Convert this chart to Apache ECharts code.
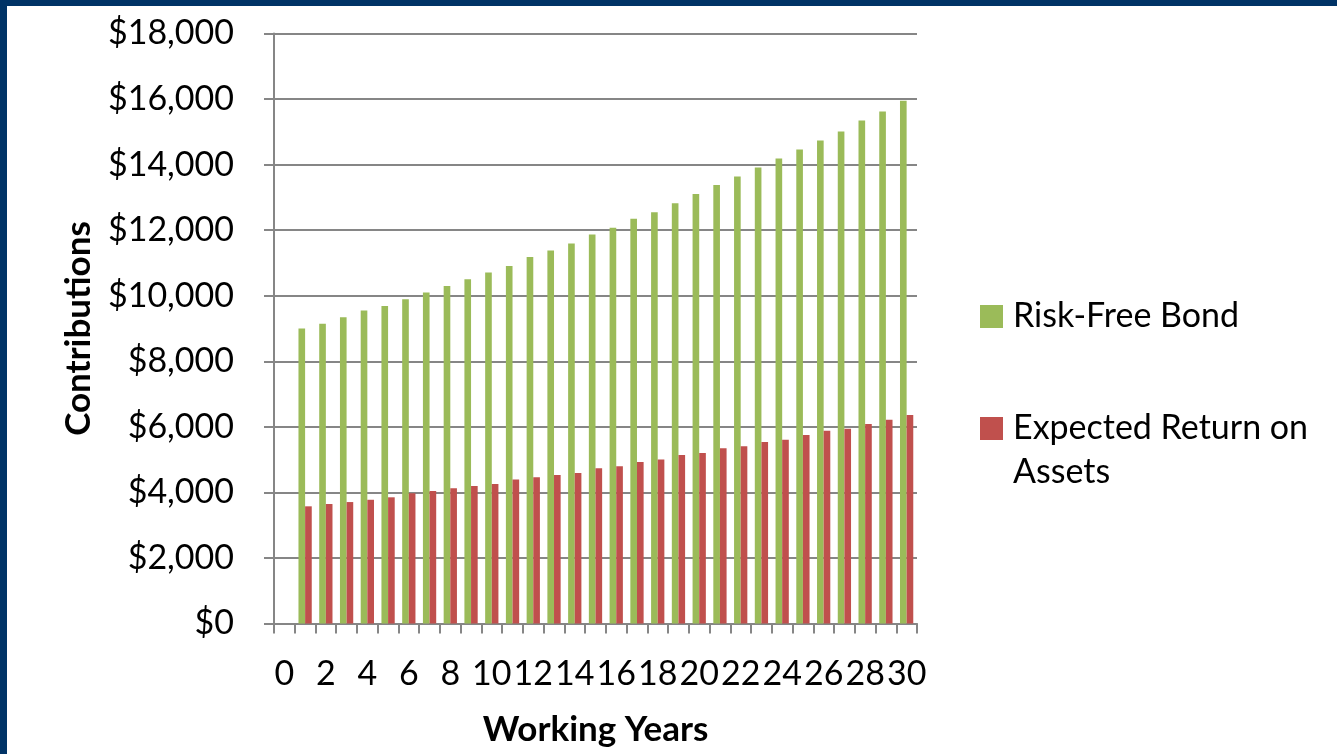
<!DOCTYPE html>
<html>
<head>
<meta charset="utf-8">
<script src="https://cdn.jsdelivr.net/npm/echarts@6/dist/echarts.min.js"></script>
<style>
  html, body { margin: 0; padding: 0; width: 1337px; height: 754px; background: #003366; overflow: hidden; }
  #chart { position: absolute; left: 7px; top: 6px; width: 1330px; height: 748px; background: #ffffff; }
</style>
</head>
<body>
<div id="chart"></div>
<script>
const years = ['0','1','2','3','4','5','6','7','8','9','10','11','12','13','14','15','16','17','18','19','20','21','22','23','24','25','26','27','28','29','30'];
const riskFreeBond = [null, 9000, 9145, 9340, 9550, 9685, 9890, 10100, 10295, 10500, 10710, 10910, 11185, 11380, 11595, 11870, 12070, 12345, 12550, 12825, 13100, 13375, 13640, 13910, 14185, 14460, 14735, 15010, 15345, 15620, 15950];
const expectedReturn = [null, 3575, 3645, 3705, 3775, 3850, 3970, 4040, 4125, 4195, 4255, 4395, 4460, 4530, 4590, 4735, 4795, 4925, 5000, 5140, 5200, 5345, 5405, 5535, 5605, 5750, 5880, 5940, 6085, 6215, 6360];
const seriesNames = ['Risk-Free Bond', 'Expected Return on Assets'];
const yTicks = { min: 0, max: 18000, interval: 2000 };

const FONT = 'Lato';
const FS = 34;
const gray = '#868686';
function money(v) { return '$' + String(v).replace(/\B(?=(\d{3})+(?!\d))/g, ','); }

const chart = echarts.init(document.getElementById('chart'), null, { renderer: 'canvas' });
chart.setOption({
  animation: false,
  textStyle: { fontFamily: FONT },
  grid: { left: 267, right: 420, top: 27.5, bottom: 130.5, containLabel: false },
  legend: [
    {
      data: [seriesNames[0]],
      orient: 'vertical', left: 968, top: 285.5,
      itemWidth: 23, itemHeight: 23, icon: 'rect',
      textStyle: { fontFamily: FONT, fontSize: FS, lineHeight: 40, color: '#000', padding: [0, 0, 0, 5] },
      selectedMode: false
    },
    {
      data: [seriesNames[1]],
      orient: 'vertical', left: 968, top: 351.5,
      itemWidth: 23, itemHeight: 23, icon: 'rect',
      formatter: function () { return ' \nExpected Return on\nAssets'; },
      textStyle: { fontFamily: FONT, fontSize: FS, lineHeight: 44, color: '#000', padding: [0, 0, 0, 5] },
      selectedMode: false
    }
  ],
  xAxis: {
    type: 'category',
    data: years,
    name: 'Working Years',
    nameLocation: 'middle',
    nameGap: 89,
    nameTextStyle: { fontFamily: FONT, fontSize: 35, fontWeight: 'bold', color: '#000' },
    axisLine: { show: true, lineStyle: { color: gray, width: 2 } },
    axisTick: { show: true, interval: 0, length: 10, lineStyle: { color: gray, width: 2 } },
    axisLabel: { interval: 1, fontFamily: FONT, fontSize: FS, color: '#000', margin: 34 },
    splitLine: { show: false }
  },
  yAxis: {
    type: 'value',
    min: yTicks.min, max: yTicks.max, interval: yTicks.interval,
    name: 'Contributions',
    nameLocation: 'middle',
    nameGap: 178,
    nameTextStyle: { fontFamily: FONT, fontSize: 35, fontWeight: 'bold', color: '#000' },
    axisLine: { show: true, lineStyle: { color: gray, width: 2 } },
    axisTick: { show: true, length: 10, lineStyle: { color: gray, width: 2 } },
    axisLabel: { formatter: money, fontFamily: FONT, fontSize: FS, color: '#000', margin: 40 },
    splitLine: { show: true, lineStyle: { color: gray, width: 2 } }
  },
  series: [
    { name: seriesNames[0], type: 'bar', data: riskFreeBond, barWidth: '32%', barGap: '0%', itemStyle: { color: '#9BBB59' } },
    { name: seriesNames[1], type: 'bar', data: expectedReturn, barWidth: '32%', barGap: '0%', itemStyle: { color: '#C0504D' } }
  ]
});
</script>
</body>
</html>
